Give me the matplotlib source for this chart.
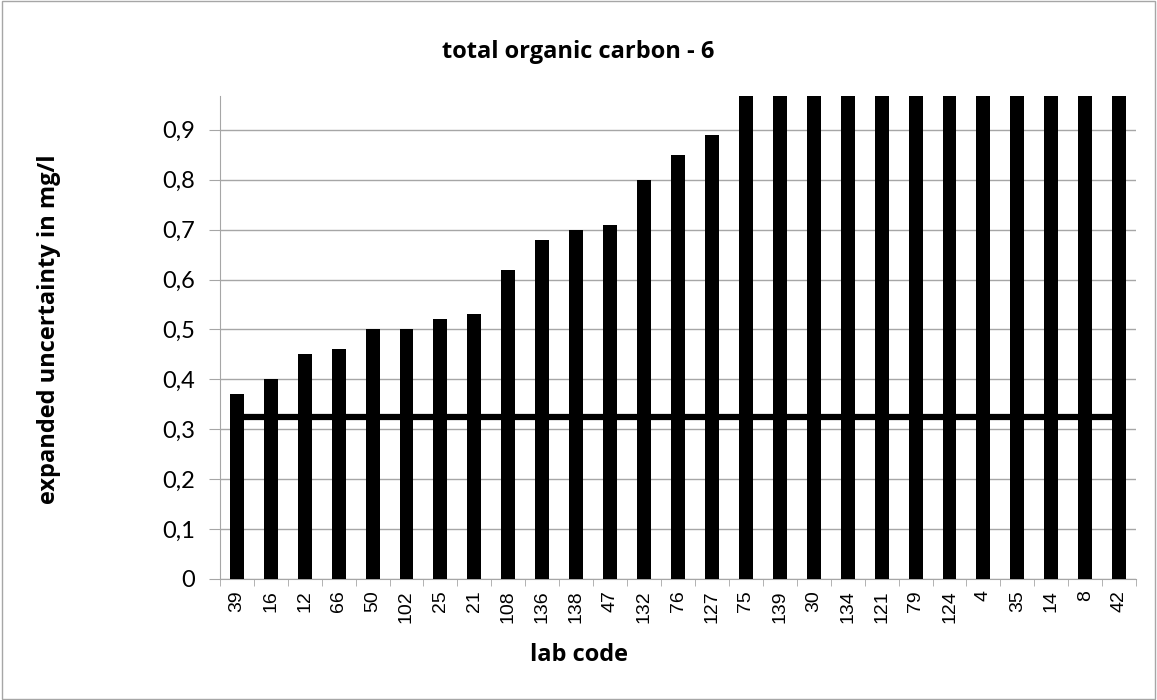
import matplotlib.pyplot as plt
from matplotlib.patches import Rectangle
from matplotlib.ticker import FuncFormatter

labs = ['39', '16', '12', '66', '50', '102', '25', '21', '108', '136', '138', '47', '132', '76',
        '127', '75', '139', '30', '134', '121', '79', '124', '4', '35', '14', '8', '42']
uncert = [0.37, 0.40, 0.45, 0.46, 0.50, 0.50, 0.52, 0.53, 0.62, 0.68, 0.70, 0.71, 0.80, 0.85,
          0.89, 1.0, 1.05, 1.1, 1.2, 1.25, 1.3, 1.4, 1.5, 1.6, 1.8, 2.0, 2.5]
limit = 0.325

fig = plt.figure(figsize=(11.57, 7), dpi=100)
ax = fig.add_axes([0.190, 0.173, 0.792, 0.690])

x = list(range(len(labs)))
ax.plot([x[0], x[-1]], [limit, limit], color='black', lw=4.5, zorder=2)
ax.bar(x, uncert, width=0.41, color='black', zorder=3)

ax.set_xlim(-0.5, len(labs) - 0.5)
ax.set_ylim(0, 0.968)
ax.set_yticks([i / 10 for i in range(10)])
ax.yaxis.set_major_formatter(FuncFormatter(lambda v, p: '0' if v == 0 else f'{v:.1f}'.replace('.', ',')))
ax.grid(axis='y', color='#a6a6a6', lw=1, zorder=0)
ax.set_axisbelow(True)

ax.set_xticks(x)
ax.set_xticklabels(labs, rotation=90, family='Liberation Sans', fontsize=14, va='top')
ax.set_xticks([i + 0.5 for i in range(-1, len(labs))], minor=True)
ax.tick_params(axis='x', which='major', length=0, pad=8)
ax.tick_params(axis='x', which='minor', length=5, color='#a6a6a6')
ax.tick_params(axis='y', length=8, color='#a6a6a6', labelsize=17, pad=10)
for t in ax.get_yticklabels():
    t.set_family('Lato')

for s in ['top', 'right']:
    ax.spines[s].set_visible(False)
for s in ['left', 'bottom']:
    ax.spines[s].set_color('#a6a6a6')

fig.text(0.5, 0.925, 'total organic carbon - 6', ha='center', va='center',
         fontsize=17, fontweight='bold', family='Open Sans')
fig.text(0.5, 0.064, 'lab code', ha='center', va='center',
         fontsize=17, fontweight='bold', family='Open Sans')
fig.text(0.042, 0.53, 'expanded uncertainty in mg/l', ha='center', va='center', rotation=90,
         fontsize=17, fontweight='bold', family='Open Sans')

fig.patches.append(Rectangle((0.002, 0.002), 0.996, 0.996, transform=fig.transFigure,
                             fill=False, edgecolor='#a6a6a6', lw=1))

fig.savefig('out.png', dpi=100)
